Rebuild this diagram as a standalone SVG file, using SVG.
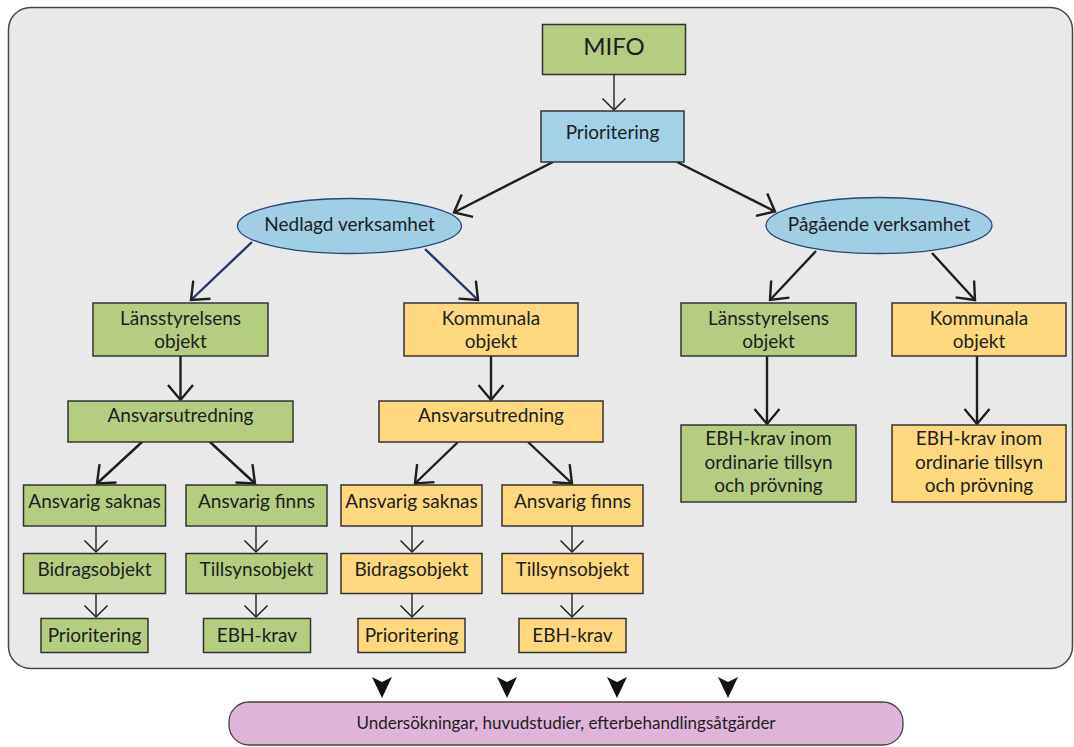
<svg xmlns="http://www.w3.org/2000/svg" width="1074" height="747" viewBox="0 0 1074 747">
<defs>
<style>
text{font-family:Lato,"Open Sans","DejaVu Sans",sans-serif;fill:#1e1e1e;text-anchor:middle;font-size:19px}
.g{fill:#b5cd80;stroke:#333;stroke-width:1.5}
.o{fill:#fed77f;stroke:#333;stroke-width:1.5}
.b{fill:#a3d2e6;stroke:#333;stroke-width:1.5}
.e{fill:#a0cfe3;stroke:#2b4677;stroke-width:1.3}
.big{fill:none;stroke:#1e1e1e;stroke-width:2.4;marker-end:url(#hb)}
.nav{fill:none;stroke:#26376b;stroke-width:2.4;marker-end:url(#hb)}
.sm{fill:none;stroke:#222;stroke-width:1.4;marker-end:url(#hs)}
.chev{fill:#111}
</style>
<marker id="hb" markerUnits="userSpaceOnUse" viewBox="-18 -16 22 32" markerWidth="22" markerHeight="32" refX="0" refY="0" orient="auto">
<path d="M-15,-12.5 L0,0 L-15,12.5" fill="none" stroke="#1e1e1e" stroke-width="2.4"/>
</marker>
<marker id="hs" markerUnits="userSpaceOnUse" viewBox="-15 -14 18 28" markerWidth="18" markerHeight="28" refX="0" refY="0" orient="auto">
<path d="M-11.5,-11.5 L0,0 L-11.5,11.5" fill="none" stroke="#222" stroke-width="1.5"/>
</marker>
</defs>

<rect id="panel" x="8.5" y="7.5" width="1064" height="661" rx="22" fill="#e9e9e9" stroke="#474747" stroke-width="1.5"/>

<g id="connectors">
<line class="sm" x1="614" y1="74.5" x2="614" y2="110"/>
<line class="big" x1="553" y1="162" x2="454" y2="212.5"/>
<line class="big" x1="677" y1="162" x2="775" y2="211.5"/>
<line class="nav" x1="252" y1="242" x2="191" y2="300"/>
<line class="nav" x1="425" y1="249" x2="478" y2="300"/>
<line class="big" x1="816" y1="251" x2="770" y2="300"/>
<line class="big" x1="932" y1="253" x2="975" y2="300"/>
<line class="big" x1="180.5" y1="356" x2="180.5" y2="400"/>
<line class="big" x1="491" y1="356" x2="491" y2="400"/>
<line class="big" x1="142" y1="442" x2="97" y2="483.5"/>
<line class="big" x1="210" y1="442" x2="255" y2="483.5"/>
<line class="big" x1="458" y1="442" x2="415" y2="483.5"/>
<line class="big" x1="528" y1="442" x2="572" y2="483.5"/>
<line class="big" x1="767" y1="356" x2="767" y2="424"/>
<line class="big" x1="977" y1="356" x2="977" y2="424"/>
<line class="sm" x1="96" y1="526" x2="96" y2="552"/>
<line class="sm" x1="256" y1="526" x2="256" y2="552"/>
<line class="sm" x1="412" y1="526" x2="412" y2="552"/>
<line class="sm" x1="572" y1="526" x2="572" y2="552"/>
<line class="sm" x1="96" y1="593.5" x2="96" y2="617"/>
<line class="sm" x1="256" y1="593.5" x2="256" y2="617"/>
<line class="sm" x1="412" y1="593.5" x2="412" y2="617"/>
<line class="sm" x1="572" y1="593.5" x2="572" y2="617"/>
<path class="chev" d="M372,677 L382,682 L392,677 L382,698 Z"/>
<path class="chev" d="M497,677 L507,682 L517,677 L507,698 Z"/>
<path class="chev" d="M607,677 L617,682 L627,677 L617,698 Z"/>
<path class="chev" d="M718,677 L728,682 L738,677 L728,698 Z"/>
</g>

<g id="mifo"><rect class="g" x="542.5" y="24.5" width="143" height="50"/><text x="614" y="54.5" style="font-size:24px">MIFO</text></g>
<g id="prioritering-top"><rect class="b" x="541" y="111" width="143" height="51"/><text x="612.5" y="138.5">Prioritering</text></g>
<g id="nedlagd"><ellipse class="e" cx="349.5" cy="226" rx="112" ry="27.5"/><text x="349.5" y="230.5">Nedlagd verksamhet</text></g>
<g id="pagaende"><ellipse class="e" cx="879" cy="225.5" rx="113" ry="28"/><text x="879" y="231">Pågående verksamhet</text></g>

<g id="lans-left"><rect class="g" x="93" y="303" width="175" height="53"/><text x="180.5" y="325">Länsstyrelsens</text><text x="180.5" y="347.5">objekt</text></g>
<g id="komm-left"><rect class="o" x="404" y="303" width="174" height="53"/><text x="491" y="325">Kommunala</text><text x="491" y="347.5">objekt</text></g>
<g id="lans-right"><rect class="g" x="681" y="303" width="175" height="53"/><text x="768.5" y="325">Länsstyrelsens</text><text x="768.5" y="347.5">objekt</text></g>
<g id="komm-right"><rect class="o" x="892" y="303" width="174" height="53"/><text x="979" y="325">Kommunala</text><text x="979" y="347.5">objekt</text></g>

<g id="ansvar-left"><rect class="g" x="68" y="401" width="225" height="41"/><text x="180.5" y="421.5">Ansvarsutredning</text></g>
<g id="ansvar-mid"><rect class="o" x="379" y="401" width="224" height="41"/><text x="491" y="421.5">Ansvarsutredning</text></g>

<g id="ebh-right-g"><rect class="g" x="681" y="425" width="175" height="77"/><text x="768.5" y="445">EBH-krav inom</text><text x="768.5" y="468.5">ordinarie tillsyn</text><text x="768.5" y="491.5">och prövning</text></g>
<g id="ebh-right-o"><rect class="o" x="892" y="425" width="174" height="77"/><text x="979" y="445">EBH-krav inom</text><text x="979" y="468.5">ordinarie tillsyn</text><text x="979" y="491.5">och prövning</text></g>

<g id="saknas-l"><rect class="g" x="23.5" y="485" width="142" height="41"/><text x="94.5" y="507.5">Ansvarig saknas</text></g>
<g id="finns-l"><rect class="g" x="186" y="485" width="141" height="41"/><text x="256.5" y="507.5">Ansvarig finns</text></g>
<g id="saknas-o"><rect class="o" x="341" y="485" width="141" height="41"/><text x="411.5" y="507.5">Ansvarig saknas</text></g>
<g id="finns-o"><rect class="o" x="502" y="485" width="141" height="41"/><text x="572.5" y="507.5">Ansvarig finns</text></g>

<g id="bidrag-l"><rect class="g" x="23.5" y="553.5" width="142" height="40"/><text x="94.5" y="575.5">Bidragsobjekt</text></g>
<g id="tillsyn-l"><rect class="g" x="186" y="553.5" width="141" height="40"/><text x="256.5" y="575.5">Tillsynsobjekt</text></g>
<g id="bidrag-o"><rect class="o" x="341" y="553.5" width="141" height="40"/><text x="411.5" y="575.5">Bidragsobjekt</text></g>
<g id="tillsyn-o"><rect class="o" x="502" y="553.5" width="141" height="40"/><text x="572.5" y="575.5">Tillsynsobjekt</text></g>

<g id="prio-l"><rect class="g" x="41" y="618.5" width="107" height="34"/><text x="94.5" y="641.5">Prioritering</text></g>
<g id="ebh-l"><rect class="g" x="203.5" y="618.5" width="107" height="34"/><text x="257" y="641.5">EBH-krav</text></g>
<g id="prio-o"><rect class="o" x="358" y="618.5" width="107" height="34"/><text x="411.5" y="641.5">Prioritering</text></g>
<g id="ebh-o"><rect class="o" x="519" y="618.5" width="107" height="34"/><text x="572.5" y="641.5">EBH-krav</text></g>

<g id="undersokningar"><rect x="229" y="702" width="674" height="43" rx="20" fill="#deb5d9" stroke="#444" stroke-width="1.3"/><text x="566" y="729" style="font-size:17px">Undersökningar, huvudstudier, efterbehandlingsåtgärder</text></g>
</svg>
